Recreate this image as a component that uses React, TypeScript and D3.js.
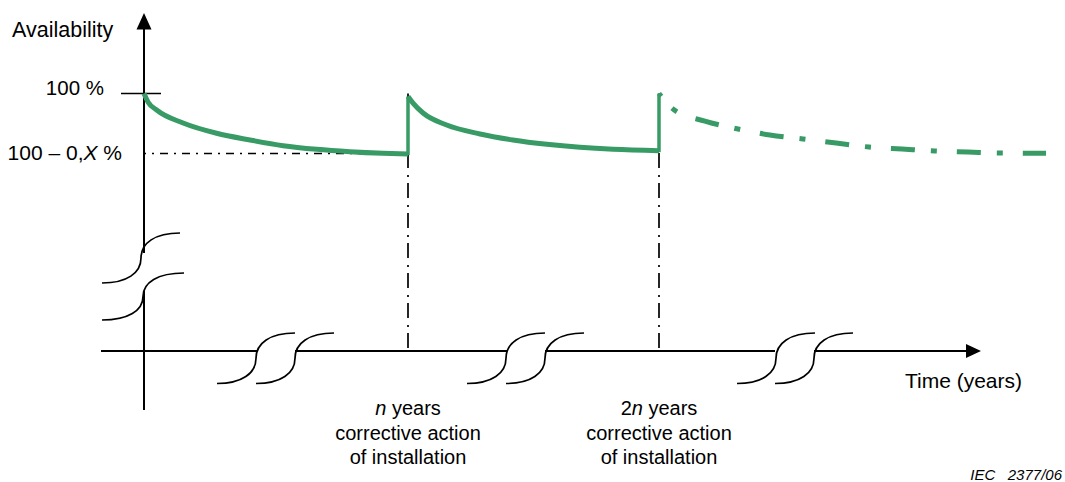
import React from "react";
import * as d3 from "d3";

// ---- Data ----
// time axis in years, with n = 10 (markers at n and 2n)
const markerT = [10, 20];
const markerLabels = [
  ["", "n", " years"],
  ["2", "n", " years"],
];
const markerSubLabels = ["corrective action", "of installation"];

// availability in %, with "0,X" taken as 1 %
const tickValues = [100, 99];

const cycle1T = [0, 0.15, 0.48, 1.48, 2.75, 4.02, 5.27, 6.54, 7.8, 9.05, 10];
const cycle1A = [100, 99.86, 99.725, 99.508, 99.337, 99.225, 99.13, 99.07, 99.03, 99.003, 98.99];

const cycle2T = [10, 10.2, 10.6, 11.54, 12.87, 14.18, 15.53, 16.85, 18.17, 20];
const cycle2A = [99.95, 99.84, 99.675, 99.475, 99.325, 99.225, 99.153, 99.103, 99.07, 99.047];

const cycle3T = [20, 20.61, 21.83, 23.15, 24.42, 25.74, 27.06, 28.37, 29.68, 31, 32.31, 33.63, 35.42];
const cycle3A = [100, 99.725, 99.54, 99.408, 99.308, 99.242, 99.175, 99.108, 99.075, 99.042, 99.025, 99.008, 99.003];

const W = 1065;
const H = 482;
const GREEN = "#389b66";
const FONT = "'Liberation Sans', Arial, Helvetica, sans-serif";

const x = d3.scaleLinear().domain([0, 10, 20]).range([144, 408, 659]);
const y = d3.scaleLinear().domain([99, 100]).range([153.5, 93.5]);

const zip = (t: number[], a: number[]) => t.map((v, i) => [v, a[i]] as [number, number]);
const line = d3
  .line<[number, number]>()
  .x((d) => x(d[0]))
  .y((d) => y(d[1]))
  .curve(d3.curveMonotoneX);

// S-shaped break symbol: from (x0, yb) lower-left to (x0+w, yb-h) upper-right
function sPath(x0: number, yb: number, w: number, h: number) {
  return `M${x0},${yb} C${x0 + w * 0.32},${yb} ${x0 + w * 0.5},${yb - h * 0.2} ${x0 + w * 0.5},${yb - h * 0.5} C${x0 + w * 0.5},${yb - h * 0.8} ${x0 + w * 0.68},${yb - h} ${x0 + w},${yb - h}`;
}

export default function App() {
  const ax = x(0);
  const axisY = 351;
  const xAxisStart = 101;
  const xAxisEnd = 981;
  const xGaps = [
    [257, 295],
    [507, 545],
    [775, 814],
  ];
  const xBreaks = [217, 256, 467, 506, 737, 775];
  const segs: [number, number][] = [];
  let cur = xAxisStart;
  xGaps.forEach(([a, b]) => {
    segs.push([cur, a]);
    cur = b;
  });
  segs.push([cur, xAxisEnd - 14]);

  const c1 = zip(cycle1T, cycle1A);
  const c2 = zip(cycle2T, cycle2A);
  const c3 = zip(cycle3T, cycle3A);

  return (
    <svg
      width={W}
      height={H}
      viewBox={`0 0 ${W} ${H}`}
      style={{ position: "absolute", left: 0, top: 0, background: "#fff" }}
      fontFamily={FONT}
    >
      <rect x={0} y={0} width={W} height={H} fill="#fff" />
      {/* Y axis */}
      <line x1={ax} x2={ax} y1={28} y2={253} stroke="#000" strokeWidth={2} />
      <line x1={ax} x2={ax} y1={291} y2={410} stroke="#000" strokeWidth={2} />
      <path d={`M${ax},13 L${ax + 7.5},29.5 L${ax - 7.5},29.5 Z`} fill="#000" />
      <path d={sPath(102, 283, 78, 50)} fill="none" stroke="#000" strokeWidth={1.7} />
      <path d={sPath(102, 320, 82, 47)} fill="none" stroke="#000" strokeWidth={1.7} />

      {/* X axis */}
      {segs.map(([a, b], i) => (
        <line key={i} x1={a} x2={b} y1={axisY} y2={axisY} stroke="#000" strokeWidth={2} />
      ))}
      <path d={`M${xAxisEnd},${axisY} L${xAxisEnd - 15},${axisY - 7} L${xAxisEnd - 15},${axisY + 7} Z`} fill="#000" />
      {xBreaks.map((x0, i) => (
        <path key={i} d={sPath(x0, 383.5, 78, 50.5)} fill="none" stroke="#000" strokeWidth={1.7} />
      ))}

      {/* 100 % tick */}
      <line x1={121} x2={161} y1={y(tickValues[0])} y2={y(tickValues[0])} stroke="#000" strokeWidth={1.5} />
      {/* 100 - 0,X % dash-dot reference */}
      <line
        x1={ax}
        x2={x(markerT[0])}
        y1={y(tickValues[1])}
        y2={y(tickValues[1])}
        stroke="#000"
        strokeWidth={1.5}
        strokeDasharray="8 6 2 6"
        strokeDashoffset={6}
      />
      {/* marker dash-dot verticals */}
      {markerT.map((t, i) => (
        <line
          key={i}
          x1={x(t)}
          x2={x(t)}
          y1={y(100)}
          y2={axisY}
          stroke="#000"
          strokeWidth={1.7}
          strokeDasharray="15 7 2 6"
          strokeDashoffset={0.5}
        />
      ))}

      {/* Availability curves */}
      <path d={line(c1) || ""} fill="none" stroke={GREEN} strokeWidth={5} />
      <path d={line(c2) || ""} fill="none" stroke={GREEN} strokeWidth={5} />
      <path
        d={line(c3) || ""}
        fill="none"
        stroke={GREEN}
        strokeWidth={5}
        strokeDasharray="24 16 6 20"
        strokeDashoffset={20.4}
      />
      {/* jumps at corrective actions */}
      <line
        x1={x(markerT[0])}
        x2={x(markerT[0])}
        y1={y(cycle1A[cycle1A.length - 1]) + 1}
        y2={y(cycle2A[0])}
        stroke={GREEN}
        strokeWidth={3.5}
      />
      <line
        x1={x(markerT[1])}
        x2={x(markerT[1])}
        y1={y(cycle2A[cycle2A.length - 1]) + 1.5}
        y2={y(cycle3A[0])}
        stroke={GREEN}
        strokeWidth={3.5}
      />

      {/* Texts */}
      <text x={12} y={37} fontSize={21.5} fill="#000">Availability</text>
      <text x={104} y={95} fontSize={20.5} textAnchor="end" fill="#000">100 %</text>
      <text x={122} y={160} fontSize={21} textAnchor="end" fill="#000">
        100 – 0,<tspan fontStyle="italic">X</tspan> %
      </text>
      <text x={1022} y={388} fontSize={21} textAnchor="end" fill="#000">Time (years)</text>
      {markerT.map((t, i) => (
        <g key={i}>
          <text x={x(t)} y={415} fontSize={20} textAnchor="middle" fill="#000">
            {markerLabels[i][0]}
            <tspan fontStyle="italic">{markerLabels[i][1]}</tspan>
            {markerLabels[i][2]}
          </text>
          {markerSubLabels.map((s, j) => (
            <text key={j} x={x(t)} y={440 + j * 24} fontSize={20} textAnchor="middle" fill="#000">
              {s}
            </text>
          ))}
        </g>
      ))}
      <text x={1062} y={480} fontSize={15} fontStyle="italic" textAnchor="end" fill="#000" style={{ whiteSpace: "pre" }}>
        {"IEC   2377/06"}
      </text>
    </svg>
  );
}
